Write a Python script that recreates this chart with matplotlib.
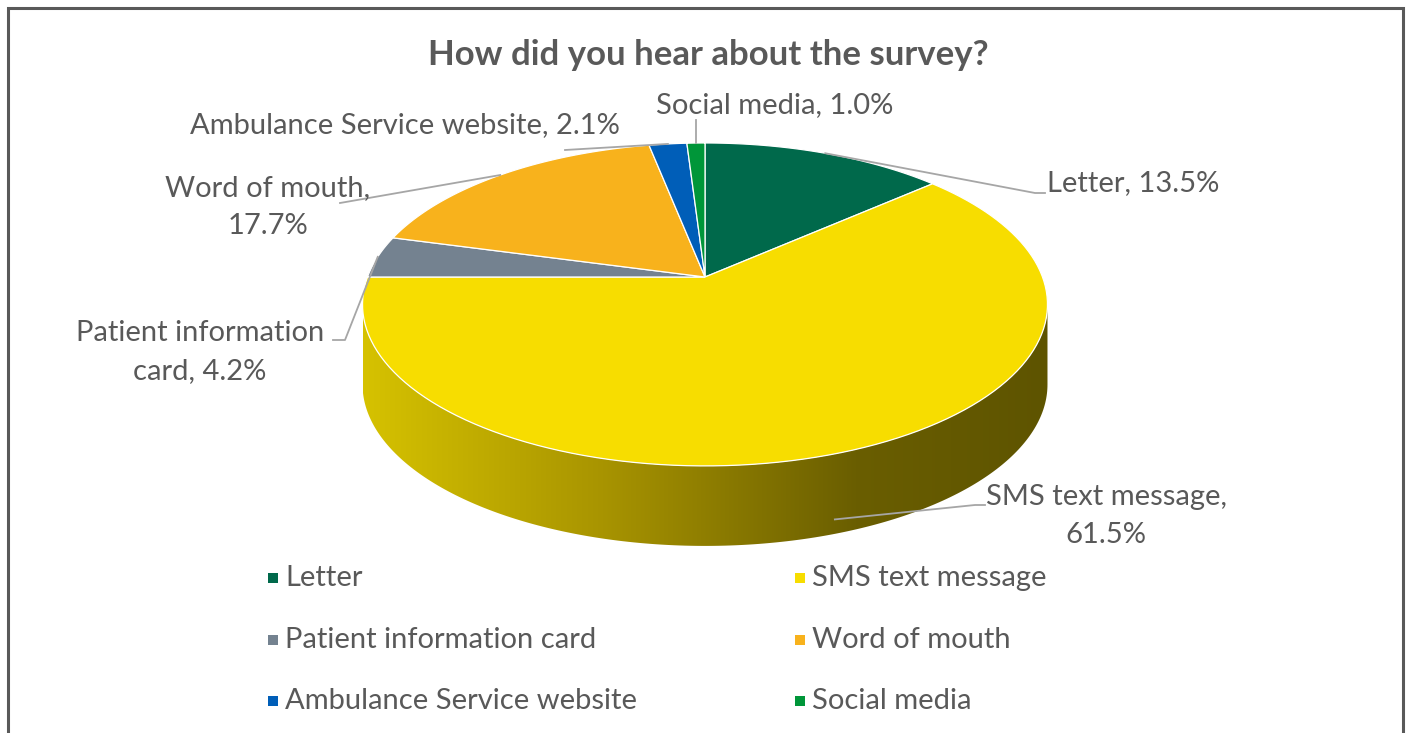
import numpy as np
import matplotlib
matplotlib.use("Agg")
import matplotlib.pyplot as plt
from matplotlib.patches import Polygon, Rectangle
from matplotlib.colors import LinearSegmentedColormap

categories = ["Letter", "SMS text message", "Patient information card",
              "Word of mouth", "Ambulance Service website", "Social media"]
shares = [13.5, 61.5, 4.2, 17.7, 2.1, 1.0]
colors = ["#00694B", "#F7DD00", "#748290", "#F8B21C", "#005EB8", "#009639"]
title = "How did you hear about the survey?"

plt.rcParams['font.family'] = ['Lato', 'DejaVu Sans']
txt = "#595959"

W, H = 1409, 733
fig = plt.figure(figsize=(W / 100, H / 100), dpi=100)
ax = fig.add_axes([0, 0, 1, 1])
ax.set_xlim(0, W)
ax.set_ylim(H, 0)
ax.axis('off')

# perspective disk -> screen (pixel space)
cx, cy = 705, 277
a, b, k = 337.5, 156.8, 0.17
depth = 80


def proj(theta):
    u = np.sin(theta)
    v = np.cos(theta)
    d = 1 + k * v
    return cx + a * u / d, cy - b * v / d


# side of the cake (front arc), shaded with a gradient
t_r = np.pi / 2 + np.arcsin(k)
t_l = 3 * np.pi / 2 - np.arcsin(k)
tt = np.linspace(t_r, t_l, 200)
xs, ys = proj(tt)
side = np.column_stack([np.r_[xs, xs[::-1]], np.r_[ys, ys[::-1] + depth]])
side_poly = Polygon(side, closed=True, facecolor='none', edgecolor='none')
ax.add_patch(side_poly)
cmap = LinearSegmentedColormap.from_list(
    "side", [(0, "#D6C200"), (0.35, "#A89400"), (0.72, "#6A5E00"), (1, "#5E5400")])
grad = np.linspace(0, 1, 256).reshape(1, -1)
im = ax.imshow(grad, cmap=cmap, aspect='auto',
               extent=[xs.min(), xs.max(), ys.max() + depth, ys.min()], zorder=1)
im.set_clip_path(side_poly)

# top wedges, clockwise from 12 o'clock
fr = np.array(shares) / sum(shares)
edges = np.r_[0, np.cumsum(fr)] * 2 * np.pi
for i, c in enumerate(colors):
    t = np.linspace(edges[i], edges[i + 1], 120)
    px, py = proj(t)
    pts = np.column_stack([np.r_[cx, px], np.r_[cy, py]])
    ax.add_patch(Polygon(pts, closed=True, facecolor=c, edgecolor='white',
                         linewidth=0.9, zorder=2))

# data labels with leader lines
mids = (edges[:-1] + edges[1:]) / 2
lab_fs = 21
lc = "#A6A6A6"
mx, my = proj(mids)
spec = [
    (f"{categories[0]}, {shares[0]:.1f}%", 1047, 183, 'left', [(1035, 193), (1045, 193)]),
    (f"{categories[1]},\n{shares[1]:.1f}%", 1106, 516, 'center', [(975, 505), (985, 505)]),
    ("Patient information\ncard, " + f"{shares[2]:.1f}%", 200, 352, 'center', [(345, 340), (333, 340)]),
    (f"{categories[3]},\n{shares[3]:.1f}%", 268, 207, 'center', [(340, 203)]),
    (f"{categories[4]}, {shares[4]:.1f}%", 405, 125, 'center', [(565, 150)]),
    (f"{categories[5]}, {shares[5]:.1f}%", 775, 105, 'center', [(mx[5], 120)]),
]
for i, (s, x, y, ha, path) in enumerate(spec):
    ax0, ay0 = mx[i], my[i]
    if i == 1:
        ay0 = ay0 + depth * 0.85
        ax0 = ax0 - 12
    lx = [ax0] + [p[0] for p in path]
    ly = [ay0] + [p[1] for p in path]
    ax.plot(lx, ly, color=lc, lw=1.3, zorder=3)
    ax.text(x, y, s, ha=ha, va='center', fontsize=lab_fs, color=txt,
            linespacing=1.58, zorder=4)

ax.text(708, 55, title, ha='center', va='center', fontsize=25,
        fontweight='bold', color=txt)

# legend
leg_x = [268, 795]
leg_y = [578, 640, 701]
for i, (c, name) in enumerate(zip(colors, categories)):
    x = leg_x[i % 2]
    y = leg_y[i // 2]
    ax.add_patch(Rectangle((x, y - 5), 10, 10, facecolor=c, edgecolor='none'))
    ax.text(x + 17, y, name, ha='left', va='center', fontsize=lab_fs, color=txt)

# chart frame
ax.plot([8, 8, 1403, 1403], [H + 5, 8, 8, H + 5], color="#595959", lw=2.2,
        solid_joinstyle='miter', clip_on=False)

fig.savefig("out.png", dpi=100)
